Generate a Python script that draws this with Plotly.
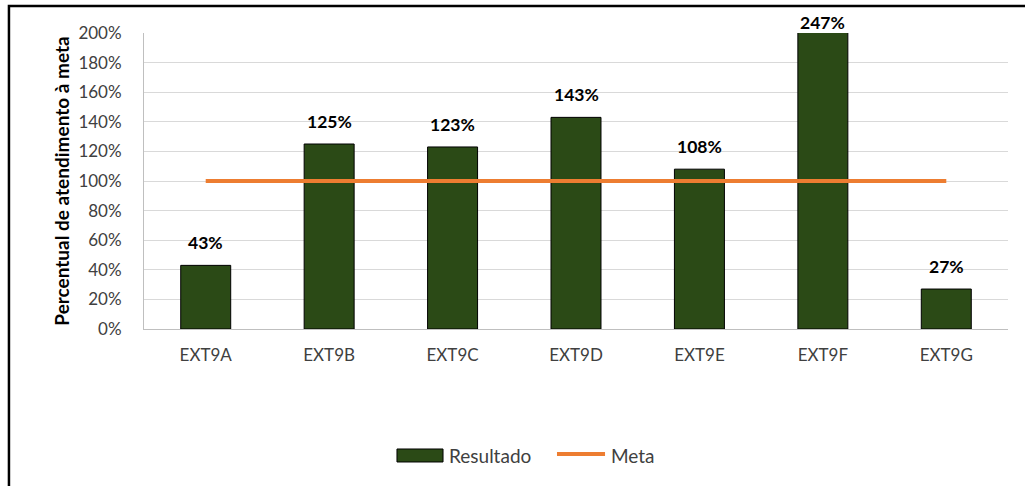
import plotly.graph_objects as go

# Source data
categories = ["EXT9A", "EXT9B", "EXT9C", "EXT9D", "EXT9E", "EXT9F", "EXT9G"]
resultado = [0.43, 1.25, 1.23, 1.43, 1.08, 2.47, 0.27]
meta = [1.00, 1.00, 1.00, 1.00, 1.00, 1.00, 1.00]
y_ticks = [0, 0.2, 0.4, 0.6, 0.8, 1.0, 1.2, 1.4, 1.6, 1.8, 2.0]
y_max = 2.0

FONT = "Lato, 'Open Sans', sans-serif"
BAR_COLOR = "#2B4A16"
META_COLOR = "#ED7D31"
TEXT_GRAY = "#404040"

fig = go.Figure()

fig.add_trace(go.Bar(
    x=categories, y=resultado, name="Resultado",
    marker=dict(color=BAR_COLOR, line=dict(color="#000000", width=1)),
    hoverinfo="skip", showlegend=False,
))

fig.add_trace(go.Scatter(
    x=categories, y=meta, name="Meta", mode="lines",
    line=dict(color=META_COLOR, width=4),
    hoverinfo="skip", showlegend=False,
))

# Value labels above each bar (bars past the axis maximum get the label at the top edge)
for cat, v in zip(categories, resultado):
    clipped = v > y_max
    fig.add_annotation(
        x=cat, y=min(v, y_max), text=f"<b>{round(v * 100)}%</b>",
        showarrow=False, yanchor="bottom", yshift=-2 if clipped else 10,
        font=dict(family=FONT, size=17.5, color="#000000"),
    )

# Legend drawn below the plot: wide bar swatch and line sample
fig.add_shape(
    type="rect", xref="paper", yref="paper",
    x0=0.2928, x1=0.3461, y0=-0.4493, y1=-0.4054,
    fillcolor=BAR_COLOR, line=dict(color="#000000", width=1),
)
fig.add_annotation(
    xref="paper", yref="paper", x=0.3507, y=-0.4257,
    text="Resultado", showarrow=False, xanchor="left", yanchor="middle",
    font=dict(family=FONT, size=19, color=TEXT_GRAY),
)
fig.add_shape(
    type="line", xref="paper", yref="paper",
    x0=0.478, x1=0.5336, y0=-0.4223, y1=-0.4223,
    line=dict(color=META_COLOR, width=4),
)
fig.add_annotation(
    xref="paper", yref="paper", x=0.5382, y=-0.4257,
    text="Meta", showarrow=False, xanchor="left", yanchor="middle",
    font=dict(family=FONT, size=19, color=TEXT_GRAY),
)

# Outer frame of the chart
fig.add_shape(
    type="rect", xref="paper", yref="paper",
    x0=-0.1563, x1=1.03, y0=-0.56, y1=1.0912,
    line=dict(color="#000000", width=2.5), fillcolor="rgba(0,0,0,0)",
)

fig.update_layout(
    width=1025, height=486,
    margin=dict(l=144, r=17, t=33, b=157),
    paper_bgcolor="#FFFFFF", plot_bgcolor="#FFFFFF",
    bargap=0.595,
    showlegend=False,
    font=dict(family=FONT, color=TEXT_GRAY),
)

fig.update_xaxes(
    showline=True, linecolor="#BFBFBF", linewidth=1,
    ticks="outside", ticklen=11, tickcolor="rgba(0,0,0,0)",
    tickfont=dict(family=FONT, size=17, color=TEXT_GRAY),
    showgrid=False,
)

fig.update_yaxes(
    range=[0, y_max], tickvals=y_ticks, tickformat=".0%",
    showline=True, linecolor="#BFBFBF", linewidth=1,
    showgrid=True, gridcolor="#D9D9D9", gridwidth=1,
    ticks="outside", ticklen=18, tickcolor="rgba(0,0,0,0)",
    tickfont=dict(family=FONT, size=17, color=TEXT_GRAY),
    zeroline=False,
    title=dict(text="<b>Percentual de atendimento à meta</b>",
               font=dict(family=FONT, size=19, color="#000000"), standoff=3),
)

fig.write_html("out.html")
